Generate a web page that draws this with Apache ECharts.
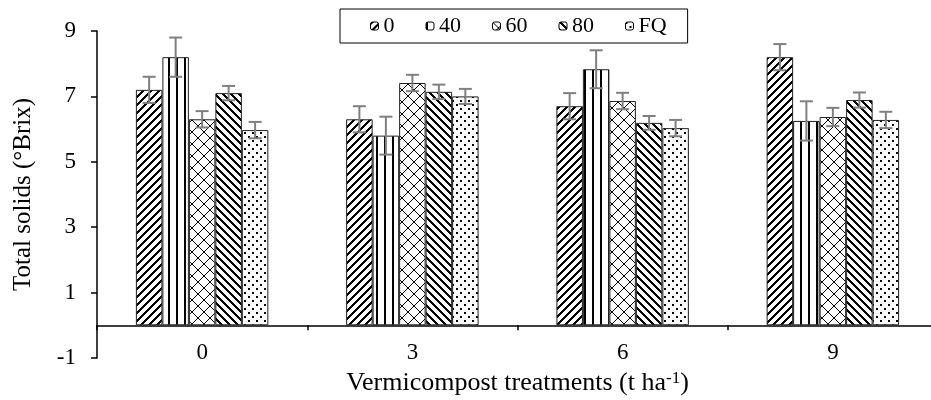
<!DOCTYPE html>
<html>
<head>
<meta charset="utf-8">
<script src="https://cdn.jsdelivr.net/npm/echarts@6/dist/echarts.min.js"></script>
<style>html,body{margin:0;padding:0;background:#fff}#c{width:931px;height:400px}</style>
</head>
<body>
<div id="c"></div>
<script>
const categories = ['0', '3', '6', '9'];
const seriesNames = ['0', '40', '60', '80', 'FQ'];
const values0  = [7.2, 6.3, 6.7, 8.2];
const values40 = [8.2, 5.8, 7.83, 6.25];
const values60 = [6.3, 7.41, 6.86, 6.37];
const values80 = [7.1, 7.14, 6.19, 6.89];
const valuesFQ = [5.97, 7.0, 6.03, 6.28];
const err0  = [0.4, 0.4, 0.4, 0.4];
const err40 = [0.6, 0.58, 0.58, 0.6];
const err60 = [0.25, 0.25, 0.25, 0.28];
const err80 = [0.22, 0.22, 0.21, 0.23];
const errFQ = [0.25, 0.23, 0.25, 0.25];
const yTicks = [-1, 1, 3, 5, 7, 9];

const allValues = [values0, values40, values60, values80, valuesFQ];
const allErr = [err0, err40, err60, err80, errFQ];

function pat(size, fn) {
  const c = document.createElement('canvas');
  c.width = c.height = size;
  const ctx = c.getContext('2d');
  ctx.fillStyle = '#fff'; ctx.fillRect(0, 0, size, size);
  ctx.fillStyle = '#000';
  for (let y = 0; y < size; y++) for (let x = 0; x < size; x++) if (fn(x, y)) ctx.fillRect(x, y, 1, 1);
  return { image: c, repeat: 'repeat' };
}
const patterns = [
  pat(8, (x, y) => ((x + y) % 8) < 3),
  pat(8, (x, y) => (x % 8) < 2),
  pat(12, (x, y) => x === y || x === 11 - y),
  pat(8, (x, y) => ((x - y + 8) % 8) < 3),
  pat(8, (x, y) => (x < 2 && y < 2) || (x >= 4 && x < 6 && y >= 4 && y < 6))
];

const CAT_GAP = 0.37;
const serif = '"Liberation Serif", "Times New Roman", serif';

const series = [];
seriesNames.forEach((n, k) => {
  series.push({
    name: n, type: 'bar', data: allValues[k],
    barGap: '0%', barCategoryGap: (CAT_GAP * 100) + '%',
    itemStyle: { color: patterns[k], borderColor: '#222', borderWidth: 1 },
    z: 2
  });
});
seriesNames.forEach((n, k) => {
  series.push({
    type: 'custom', name: n + '_err', z: 5,
    data: allValues[k].map((v, i) => [i, v, allErr[k][i]]),
    renderItem: function (params, api) {
      const c = api.value(0), v = api.value(1), e = api.value(2);
      const top = api.coord([c, v + e]);
      const bot = api.coord([c, v - e]);
      const band = api.size([1, 0])[0];
      const bw = band * (1 - CAT_GAP) / 5;
      const x = top[0] + (k - 2) * bw;
      const hw = 6.5;
      const st = { stroke: '#7f7f7f', lineWidth: 2 };
      return {
        type: 'group', children: [
          { type: 'line', shape: { x1: x, y1: top[1], x2: x, y2: bot[1] }, style: st },
          { type: 'line', shape: { x1: x - hw, y1: top[1], x2: x + hw, y2: top[1] }, style: st },
          { type: 'line', shape: { x1: x - hw, y1: bot[1], x2: x + hw, y2: bot[1] }, style: st }
        ]
      };
    }
  });
});

const chart = echarts.init(document.getElementById('c'), null, { renderer: 'canvas' });
chart.setOption({
  animation: false,
  backgroundColor: '#fff',
  textStyle: { fontFamily: serif, color: '#000' },
  grid: { left: 97, right: -7, top: 31, bottom: 42, containLabel: false, outerBoundsMode: 'none' },
  legend: {
    data: seriesNames,
    left: 340, top: 9,
    padding: [6, 21, 6, 30],
    itemGap: 31, itemWidth: 8, itemHeight: 8,
    borderColor: '#000', borderWidth: 1,
    textStyle: { fontFamily: serif, fontSize: 22, color: '#000' },
    itemStyle: { borderColor: '#000', borderWidth: 1 }
  },
  xAxis: {
    type: 'category', data: categories,
    axisLine: { onZero: true, lineStyle: { color: '#000', width: 1.5 } },
    axisTick: { show: true, length: 5, lineStyle: { color: '#000', width: 1.5 } },
    axisLabel: { fontFamily: serif, fontSize: 23, color: '#000', margin: -17 },
    name: 'Vermicompost treatments (t ha{sup|-1})',
    nameLocation: 'middle', nameGap: 12,
    nameTextStyle: {
      fontFamily: serif, fontSize: 26, color: '#000',
      rich: { sup: { fontFamily: serif, fontSize: 17, color: '#000', verticalAlign: 'top', padding: [0, 0, 10, 0] } }
    }
  },
  yAxis: {
    type: 'value', min: -1, max: 9,
    axisLine: { show: true, onZero: false, lineStyle: { color: '#000', width: 1.5 } },
    axisTick: { show: true, length: 6, customValues: yTicks, lineStyle: { color: '#000', width: 1.5 } },
    axisLabel: { customValues: yTicks, fontFamily: serif, fontSize: 23, color: '#000', margin: 21 },
    splitLine: { show: false },
    name: 'Total solids (°Brix)', nameLocation: 'middle', nameGap: 61,
    nameTextStyle: { fontFamily: serif, fontSize: 25, color: '#000' }
  },
  series: series
});
</script>
</body>
</html>
